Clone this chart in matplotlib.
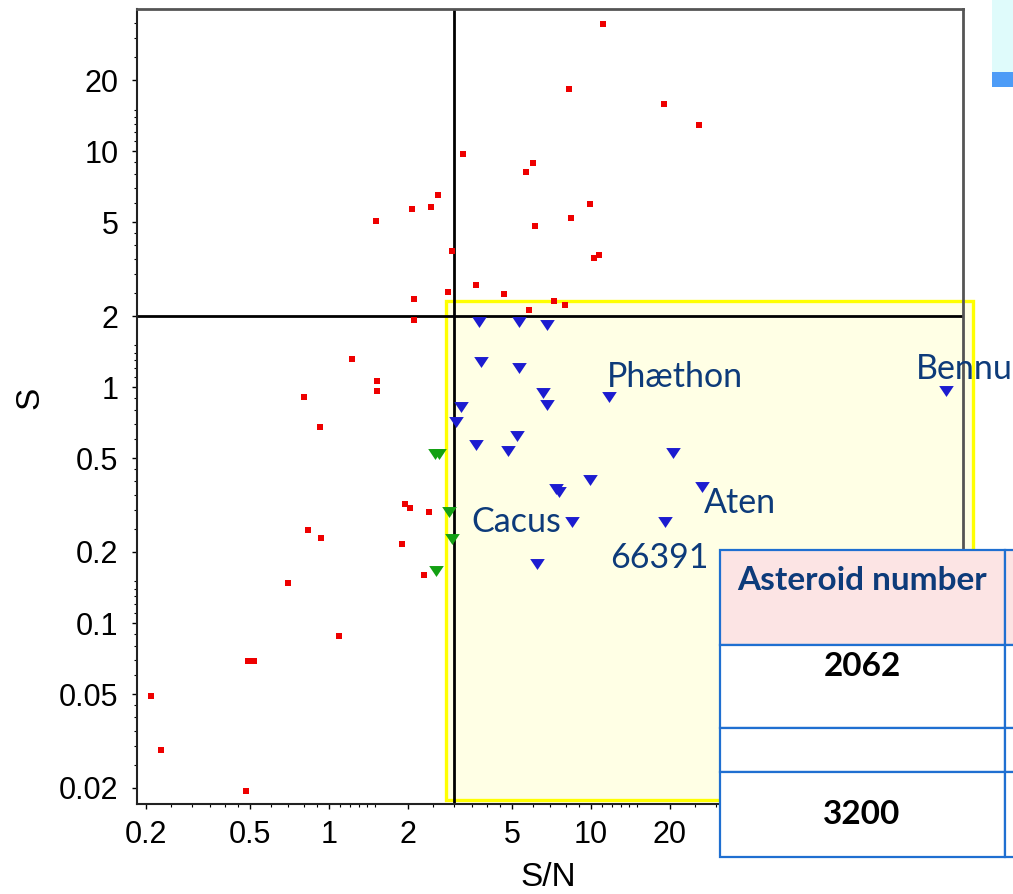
import matplotlib
matplotlib.use("Agg")
import matplotlib.pyplot as plt
from matplotlib.patches import Rectangle
from matplotlib.ticker import NullFormatter

# S/N vs S for the sample, split by class
red_sn = [11.1, 8.27, 19.0, 25.8, 3.26, 6.02, 5.66, 2.61, 2.46, 2.07, 1.51, 9.93, 8.37, 6.10,
          2.95, 10.7, 10.3, 3.63, 2.85, 4.66, 2.12, 7.22, 7.96, 5.79, 2.12, 1.22, 1.52, 1.52,
          0.80, 0.92, 1.95, 2.03, 2.40, 0.83, 0.935, 1.90, 0.70, 2.31, 1.09, 0.49, 0.517,
          0.21, 0.229, 0.483]
red_s = [34.5, 18.4, 15.9, 12.9, 9.74, 8.87, 8.17, 6.49, 5.81, 5.66, 5.07, 5.98, 5.22, 4.81,
         3.77, 3.61, 3.52, 2.71, 2.53, 2.47, 2.36, 2.31, 2.22, 2.13, 1.92, 1.32, 1.06, 0.965,
         0.904, 0.679, 0.318, 0.308, 0.296, 0.249, 0.229, 0.217, 0.148, 0.159, 0.088, 0.069,
         0.069, 0.049, 0.029, 0.0195]

green_sn = [2.54, 2.62, 2.86, 2.96, 2.57]
green_s = [0.52, 0.52, 0.296, 0.228, 0.166]

blue_sn = [3.74, 5.32, 6.78, 3.81, 5.29, 6.58, 6.80, 11.7, 227, 3.20, 3.06, 3.63, 5.24, 4.82,
           20.6, 9.90, 7.35, 7.55, 26.6, 8.45, 19.2, 6.22]
blue_s = [1.89, 1.89, 1.84, 1.28, 1.21, 0.94, 0.839, 0.91, 0.962, 0.82, 0.713, 0.568, 0.622,
          0.536, 0.524, 0.403, 0.370, 0.360, 0.378, 0.269, 0.269, 0.178]

# named objects -> index into the blue arrays
names = ["Phæthon", "Bennu", "Cacus", "Aten", "66391"]
name_idx = [7, 8, 19, 18, 20]

x_ticks = [0.2, 0.5, 1, 2, 5, 10, 20, 50, 100, 200]
x_ticklabels = ["0.2", "0.5", "1", "2", "5", "10", "20", "", "", ""]
y_ticks = [0.02, 0.05, 0.1, 0.2, 0.5, 1, 2, 5, 10, 20]
y_ticklabels = ["0.02", "0.05", "0.1", "0.2", "0.5", "1", "2", "5", "10", "20"]
sn_cut = 3
s_cut = 2

table_header = "Asteroid number"
table_cells = ["2062", "", "3200"]

NAVY = "#0d3b7a"
TICKFONT = ["Liberation Sans Narrow", "Liberation Sans", "DejaVu Sans"]
LABELFONT = ["Lato", "DejaVu Sans"]

W, H = 1013, 894
fig = plt.figure(figsize=(W / 100, H / 100), dpi=100)
ax = fig.add_axes([137 / W, 1 - 804 / H, (963 - 137) / W, (804 - 9) / H], zorder=0)
ov = fig.add_axes([0, 0, 1, 1], zorder=1)
ov.set_xlim(0, W)
ov.set_ylim(H, 0)
ov.axis("off")
ov.patch.set_alpha(0)

ax.set_xscale("log")
ax.set_yscale("log")
ax.set_xlim(0.185, 263)
ax.set_ylim(0.0171, 40)

# log ticks: labelled majors plus fine minor marks inside each decade
minor_steps = [1.1, 1.2, 1.3, 1.4, 1.5, 2.5, 3, 3.5, 4, 4.5, 6, 7, 8, 9]
minor = [m * b for b in [0.01, 0.1, 1, 10, 100] for m in minor_steps]
ax.set_xticks(x_ticks)
ax.set_xticklabels(x_ticklabels)
ax.set_yticks(y_ticks)
ax.set_yticklabels(y_ticklabels)
ax.set_xticks([m for m in minor if 0.185 < m < 263], minor=True)
ax.set_yticks([m for m in minor if 0.0171 < m < 40], minor=True)
ax.xaxis.set_minor_formatter(NullFormatter())
ax.yaxis.set_minor_formatter(NullFormatter())
ax.tick_params(which="major", direction="out", length=3.5, width=1, pad=8, labelsize=22)
ax.tick_params(which="minor", direction="out", length=2, width=0.8)
ax.tick_params(axis="y", which="major", pad=10)
for lab in ax.get_xticklabels() + ax.get_yticklabels():
    lab.set_family(TICKFONT)

for side in ["left", "bottom"]:
    ax.spines[side].set_color("#222222")
    ax.spines[side].set_linewidth(1.5)
for side in ["top", "right"]:
    ax.spines[side].set_color("#555555")
    ax.spines[side].set_linewidth(2)

# threshold lines
ax.axhline(s_cut, color="black", lw=2, zorder=2)
ax.axvline(sn_cut, color="black", lw=2, zorder=2)

# highlighted region
ax.add_patch(Rectangle((446, 301), 527, 499, transform=ov.transData, clip_on=False,
                       facecolor=(1, 1, 0, 0.1), edgecolor="#ffff00", lw=2.4, zorder=1.5))

tri = [(-1, 0.75), (1, 0.75), (0, -0.75)]
ax.plot(red_sn, red_s, ls="none", marker="s", ms=5, mew=0, color="#ee0000", zorder=3)
ax.plot(green_sn, green_s, ls="none", marker=tri, ms=10.5, mew=0, color="#13a013", zorder=3)
ax.plot(blue_sn, blue_s, ls="none", marker=tri, ms=10.5, mew=0, color="#1c1cd0", zorder=3)

# name labels, offset in points from their marker
offsets = {"Phæthon": (-1.4, 7.2, "left"), "Bennu": (-21.6, 8.6, "left"),
           "Cacus": (-7.9, -7.2, "right"), "Aten": (1.4, -18.7, "left"),
           "66391": (-39.6, -33.1, "left")}
for name, i in zip(names, name_idx):
    dx, dy, ha = offsets[name]
    ax.annotate(name, (blue_sn[i], blue_s[i]), xytext=(dx, dy), textcoords="offset points",
                ha=ha, va="baseline", fontsize=24.5, color=NAVY, family=LABELFONT,
                annotation_clip=False, zorder=4)

fig.text(548 / W, 1 - 877 / H, "S/N", ha="center", va="center", fontsize=24, family=TICKFONT)
fig.text(30 / W, 1 - 398 / H, "S", ha="center", va="center", rotation=90, fontsize=24,
         family=TICKFONT)

# corner tab
ov.add_patch(Rectangle((992, 0), 30, 72, facecolor="#dffbfb", edgecolor="none"))
ov.add_patch(Rectangle((992, 72), 30, 15, facecolor="#4d9cf7", edgecolor="none"))

# table
border = "#1f6fd1"
col_x = [720, 1005]
col_w = [285, 60]
row_y = [550, 645, 728, 772]
row_h = [95, 83, 44, 85]
for r, (y, h) in enumerate(zip(row_y, row_h)):
    for x, w in zip(col_x, col_w):
        ov.add_patch(Rectangle((x, y), w, h, facecolor="#fce4e4" if r == 0 else "white",
                               edgecolor=border, lw=1.6))
ov.text(862, 581, table_header, ha="center", va="center", fontsize=24, fontweight="bold",
        color=NAVY, family=LABELFONT)
text_y = [667, 750, 815]
for t, y in zip(table_cells, text_y):
    ov.text(862, y, t, ha="center", va="center", fontsize=24, fontweight="bold",
            color="black", family=LABELFONT)

fig.savefig("out.png", dpi=100)
